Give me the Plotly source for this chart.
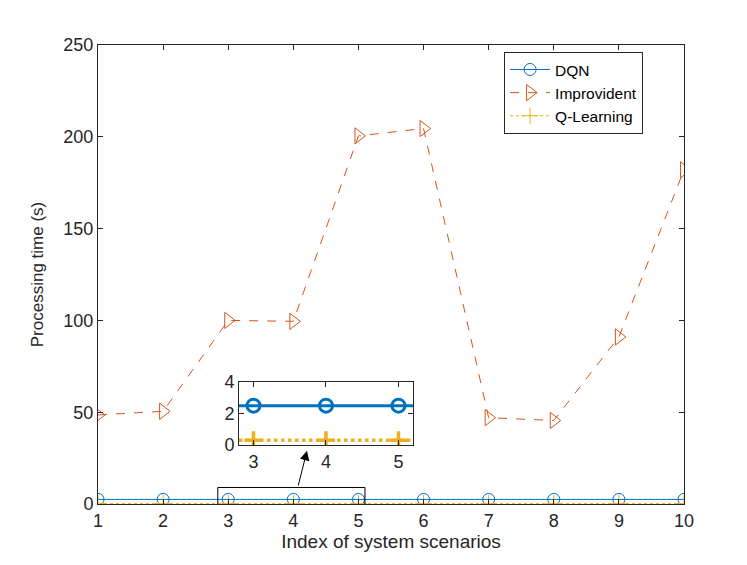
import plotly.graph_objects as go

scenarios = [1, 2, 3, 4, 5, 6, 7, 8, 9, 10]
dqn = [2.5, 2.5, 2.5, 2.5, 2.5, 2.5, 2.5, 2.5, 2.5, 2.5]
improvident = [48.5, 50.5, 100, 99.5, 200.5, 204.5, 47, 45.5, 91, 182]
qlearning = [0.3, 0.3, 0.3, 0.3, 0.3, 0.3, 0.3, 0.3, 0.3, 0.3]
inset_idx = [2, 3, 4]

C_DQN = "#0072BD"
C_IMP = "#D95319"
C_QL = "#EDB120"
FONT = "Liberation Sans, Arial, sans-serif"

fig = go.Figure()
fig.add_trace(go.Scatter(x=scenarios, y=dqn, name="DQN", mode="lines+markers",
                         line=dict(color=C_DQN, width=1),
                         marker=dict(symbol="circle-open", size=12, color=C_DQN, line=dict(width=1))))
fig.add_trace(go.Scatter(x=scenarios, y=improvident, name="Improvident", mode="lines+markers",
                         line=dict(color=C_IMP, width=1, dash="dash"),
                         marker=dict(symbol="triangle-right-open", size=14, color=C_IMP, line=dict(width=1))))
fig.add_trace(go.Scatter(x=scenarios, y=qlearning, name="Q-Learning", mode="lines+markers",
                         line=dict(color=C_QL, width=1, dash="dot"),
                         marker=dict(symbol="cross-thin-open", size=12, color=C_QL, line=dict(width=1, color=C_QL))))

# inset
xi = [scenarios[i] for i in inset_idx]
fig.add_trace(go.Scatter(x=[2.8, 5.2], y=[dqn[2], dqn[4]], mode="lines", showlegend=False,
                         xaxis="x2", yaxis="y2", line=dict(color=C_DQN, width=3), hoverinfo="skip"))
fig.add_trace(go.Scatter(x=[2.8, 5.2], y=[qlearning[2], qlearning[4]], mode="lines", showlegend=False,
                         xaxis="x2", yaxis="y2", line=dict(color=C_QL, width=3.5, dash="dot"), hoverinfo="skip"))
fig.add_trace(go.Scatter(x=xi, y=[dqn[i] for i in inset_idx], mode="markers", showlegend=False,
                         xaxis="x2", yaxis="y2",
                         marker=dict(symbol="circle-open", size=13, color=C_DQN, line=dict(width=3))))
fig.add_trace(go.Scatter(x=xi, y=[qlearning[i] for i in inset_idx], mode="markers", showlegend=False,
                         xaxis="x2", yaxis="y2",
                         marker=dict(symbol="cross-thin-open", size=13, color=C_QL, line=dict(width=3.5, color=C_QL))))

axis_common = dict(showgrid=False, zeroline=False, showline=True, linecolor="#262626", linewidth=1,
                   mirror="ticks", ticks="inside", ticklen=5, tickcolor="#262626",
                   tickfont=dict(family=FONT, size=18, color="#262626"))

fig.update_layout(
    width=747, height=565,
    margin=dict(l=90, r=71, t=37, b=69),
    plot_bgcolor="white", paper_bgcolor="white",
    font=dict(family=FONT, color="#262626"),
    xaxis=dict(range=[1, 10], tickvals=scenarios, **axis_common,
               title=dict(text="Index of system scenarios", font=dict(family=FONT, size=19), standoff=4)),
    yaxis=dict(range=[0, 250], tickvals=[0, 50, 100, 150, 200, 250], **axis_common,
               title=dict(text="Processing time (s)", font=dict(family=FONT, size=17), standoff=15)),
    xaxis2=dict(domain=[0.2406, 0.5375], anchor="y2", range=[2.8, 5.2], tickvals=[3, 4, 5], **axis_common),
    yaxis2=dict(domain=[0.1285, 0.2658], anchor="x2", range=[0, 4], tickvals=[0, 2, 4], **axis_common),
    legend=dict(x=0.693, y=0.985, xanchor="left", yanchor="top", bordercolor="#262626", borderwidth=1,
                bgcolor="white", font=dict(family=FONT, size=15.5, color="black"),
                tracegroupgap=0, itemwidth=40),
    showlegend=True,
)

fig.add_shape(type="rect", xref="x", yref="y", x0=2.84, x1=5.1, y0=-2.6, y1=9,
              line=dict(color="black", width=1))
fig.add_annotation(xref="x", yref="y", axref="x", ayref="y", x=4.21, y=29, ax=4.07, ay=9.3,
                   showarrow=True, arrowhead=2, arrowsize=1.9, arrowwidth=1, arrowcolor="black", text="")

fig.write_html("out.html")
